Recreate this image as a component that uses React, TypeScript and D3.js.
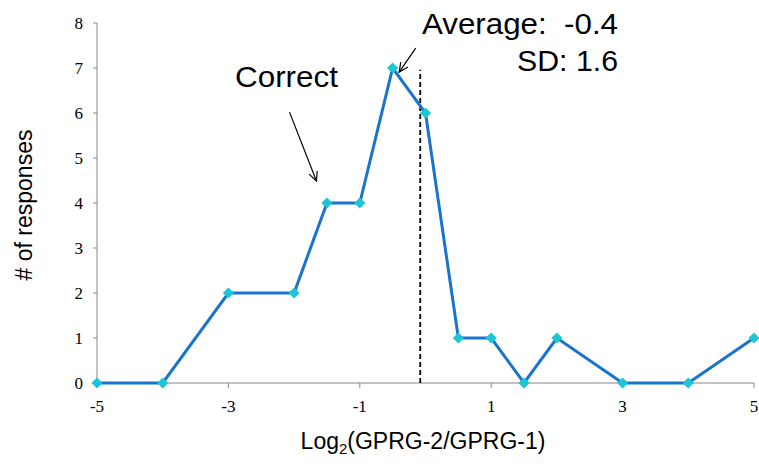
import React from "react";
import * as d3 from "d3";

const xValues = [-5, -4, -3, -2, -1.5, -1, -0.5, 0, 0.5, 1, 1.5, 2, 3, 4, 5];
const responses = [0, 0, 2, 2, 4, 4, 7, 6, 1, 1, 0, 1, 0, 0, 1];
const xTicks = [-5, -3, -1, 1, 3, 5];
const yTicks = [0, 1, 2, 3, 4, 5, 6, 7, 8];
const averageLineX = -0.08;
const averageLineTop = 6.96;
const correctArrow = { from: [-2.07, 6.02], to: [-1.66, 4.49] };
const avgArrow = { from: [-0.15, 7.44], to: [-0.4, 6.91] };

const W = 759;
const H = 464;
const left = 97;
const right = 754;
const top = 23;
const bottom = 383;

export default function App() {
  const x = d3.scaleLinear().domain([-5, 5]).range([left, right]);
  const y = d3.scaleLinear().domain([0, 8]).range([bottom, top]);
  const pts = xValues.map((v, i) => [v, responses[i]] as [number, number]);
  const line = d3
    .line<[number, number]>()
    .x((d) => x(d[0]))
    .y((d) => y(d[1]))(pts);
  const diamond = d3.symbol().type(d3.symbolDiamond2).size(80)();

  const arrowHead = (from: number[], to: number[]) => {
    const x1 = x(from[0]), y1 = y(from[1]), x2 = x(to[0]), y2 = y(to[1]);
    const ang = Math.atan2(y2 - y1, x2 - x1);
    const L = 10, a = 0.45;
    const p1 = [x2 - L * Math.cos(ang - a), y2 - L * Math.sin(ang - a)];
    const p2 = [x2 - L * Math.cos(ang + a), y2 - L * Math.sin(ang + a)];
    return (
      <g stroke="#000" strokeWidth={1.2} fill="none">
        <line x1={x1} y1={y1} x2={x2} y2={y2} />
        <polyline points={`${p1[0]},${p1[1]} ${x2},${y2} ${p2[0]},${p2[1]}`} />
      </g>
    );
  };

  const sans = "Liberation Sans, Arial, sans-serif";
  const serif = "Liberation Serif, Times New Roman, serif";

  return (
    <svg width={W} height={H} style={{ position: "absolute", left: 0, top: 0, background: "#fff" }}>
      <line x1={left} y1={top} x2={left} y2={bottom} stroke="#868686" strokeWidth={1} />
      <line x1={left} y1={bottom} x2={right} y2={bottom} stroke="#868686" strokeWidth={1} />
      {yTicks.map((t) => (
        <g key={"y" + t}>
          <line x1={left - 4} x2={left} y1={y(t)} y2={y(t)} stroke="#868686" />
          <text x={left - 14} y={y(t) + 6} textAnchor="end" fontFamily={serif} fontSize={17} fill="#000">
            {t}
          </text>
        </g>
      ))}
      {xTicks.map((t) => (
        <g key={"x" + t}>
          <line x1={x(t)} x2={x(t)} y1={bottom} y2={bottom + 5} stroke="#868686" />
          <text x={x(t)} y={bottom + 29} textAnchor="middle" fontFamily={serif} fontSize={17} fill="#000">
            {t}
          </text>
        </g>
      ))}
      <line
        x1={x(averageLineX)}
        x2={x(averageLineX)}
        y1={y(0)}
        y2={y(averageLineTop)}
        stroke="#000"
        strokeWidth={1.8}
        strokeDasharray="5,3"
      />
      <path d={line || ""} fill="none" stroke="#1874CD" strokeWidth={3} />
      {pts.map((p, i) => (
        <path key={i} d={diamond || ""} transform={`translate(${x(p[0])},${y(p[1])})`} fill="#1CC6D4" />
      ))}
      {arrowHead(correctArrow.from, correctArrow.to)}
      {arrowHead(avgArrow.from, avgArrow.to)}
      <text x={235} y={87} fontFamily={sans} fontSize={29} fill="#000" textLength={103} lengthAdjust="spacingAndGlyphs">
        Correct
      </text>
      <text
        x={422}
        y={34}
        fontFamily={sans}
        fontSize={29}
        fill="#000"
        style={{ whiteSpace: "pre" }}
        textLength={196}
        lengthAdjust="spacingAndGlyphs"
      >
        {"Average:  -0.4"}
      </text>
      <text x={517} y={71} fontFamily={sans} fontSize={29} fill="#000" textLength={101} lengthAdjust="spacingAndGlyphs">
        SD: 1.6
      </text>
      <text
        transform="translate(32,205) rotate(-90)"
        textAnchor="middle"
        fontFamily={sans}
        fontSize={23}
        fill="#000"
      >
        # of responses
      </text>
      <text x={423} y={449} textAnchor="middle" fontFamily={sans} fontSize={23} fill="#000">
        Log
        <tspan fontSize={15} dy={5}>2</tspan>
        <tspan dy={-5}>(GPRG-2/GPRG-1)</tspan>
      </text>
    </svg>
  );
}
